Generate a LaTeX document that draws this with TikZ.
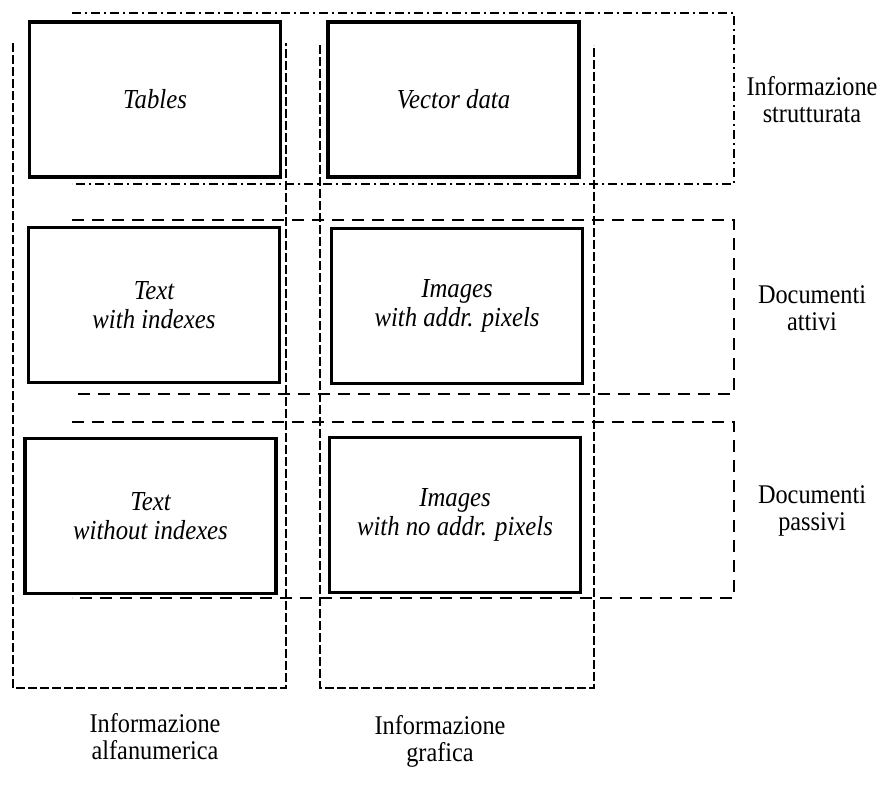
\documentclass[tikz,border=0pt]{standalone}
\usepackage{fontspec}
\setmainfont[FakeStretch=0.9]{Liberation Serif}
\usepackage{tikz}

\begin{document}
\begin{tikzpicture}[x=1pt,y=-1pt,
    cell/.style={draw,line width=3.5pt,minimum width=251pt,minimum height=155pt,inner sep=0pt,
      align=center,font=\itshape\fontsize{27.5}{29}\selectfont},
    lbl/.style={align=center,font=\fontsize{27}{27}\selectfont},
    coldash/.style={line width=1.3pt,dash pattern=on 9pt off 3pt},
    rowdash/.style={line width=1.6pt,dash pattern=on 12pt off 8pt},
    rowdot/.style={line width=1.6pt,dash pattern=on 9pt off 4pt on 2pt off 4pt}]
    \useasboundingbox (0,0) rectangle (896,785);
    % columns
    \draw[coldash] (13,43) -- (13,688) -- (286,688) -- (286,43);
    \draw[coldash] (320,45) -- (320,688) -- (594,688) -- (594,45);
    % rows
    \draw[rowdot] (72,13) -- (734,13) -- (734,184) -- (72,184);
    \draw[rowdash] (72,220) -- (734,220) -- (734,394) -- (72,394);
    \draw[rowdash] (72,422) -- (734,422) -- (734,598) -- (72,598);
    % boxes
    \node[cell,fill=white] (tables) at (155,99.5) {Tables};
    \node[cell,fill=white] (vector) at (453.5,99.5) {Vector data};
    \node[cell] (textidx) at (154,305) {Text\\with indexes};
    \node[cell] (imgaddr) at (457,306) {Images\\with addr. pixels};
    \node[cell] (textnoidx) at (150.5,516) {Text\\without indexes};
    \node[cell] (imgnoaddr) at (455,515) {Images\\with no addr. pixels};
    % labels
    \node[lbl] (strutt) at (812,100) {Informazione\\strutturata};
    \node[lbl] (attivi) at (812,308) {Documenti\\attivi};
    \node[lbl] (passivi) at (812,511) {Documenti\\passivi};
    \node[lbl] (alfa) at (155,737) {Informazione\\alfanumerica};
    \node[lbl] (grafica) at (440,741) {Informazione\\grafica};
\end{tikzpicture}
\end{document}
